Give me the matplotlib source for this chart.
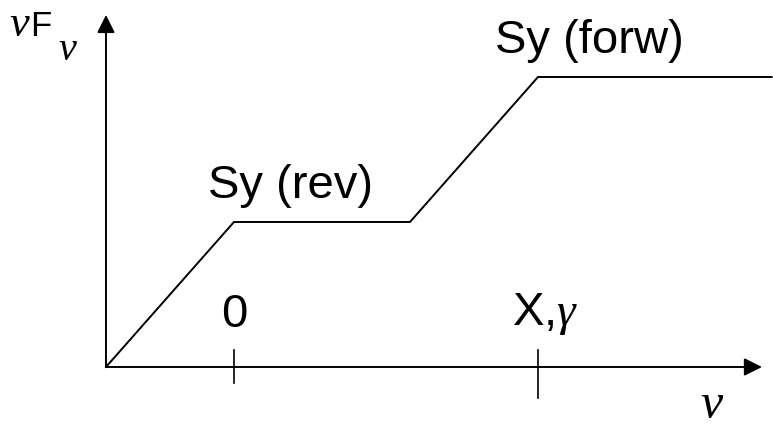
import matplotlib
matplotlib.use("Agg")
import matplotlib.pyplot as plt

# spectrum sketch: nuF_nu against nu (arbitrary units)
curve_x = [0, 1, 2.375, 3.375, 5.2]
curve_y = [0, 1, 1, 2, 2]

# tick marks on the nu axis
tick_x = [1, 3.375]
tick_low = [-0.11, -0.214]
tick_high = [0.117, 0.117]

SANS = "Liberation Sans"
SERIF = "Liberation Serif"

plt.rcParams["mathtext.fontset"] = "custom"
plt.rcParams["mathtext.it"] = "Liberation Serif:italic"
plt.rcParams["mathtext.rm"] = "Liberation Sans"

fig = plt.figure(figsize=(7.73, 4.26), dpi=100)
ax = fig.add_axes([0, 0, 1, 1])
ax.set_xlim(-0.828, 5.211)
ax.set_ylim(-0.407, 2.531)
ax.axis("off")

# axes with arrow heads
arrow = dict(arrowstyle="-|>,head_length=0.6,head_width=0.3", mutation_scale=18,
             lw=1.4, color="black", shrinkA=0, shrinkB=0)
ax.annotate("", xy=(5.125, 0), xytext=(0, 0), arrowprops=arrow)
ax.annotate("", xy=(0, 2.428), xytext=(0, 0), arrowprops=arrow)

# the curve
ax.plot(curve_x, curve_y, color="black", lw=1.4, solid_joinstyle="miter", clip_on=False)

# ticks
for x, lo, hi in zip(tick_x, tick_low, tick_high):
    ax.plot([x, x], [lo, hi], color="black", lw=1.2)

# labels
ax.text(1.0, 0.276, "0", family=SANS, fontsize=34, ha="center", va="baseline")
ax.text(3.17, 0.29, r"X,$\gamma$", family=SANS, fontsize=34, ha="left", va="baseline")

ax.text(0.797, 1.166, "Sy (rev)", family=SANS, fontsize=34, ha="left", va="baseline")
ax.text(3.039, 2.166, "Sy (forw)", family=SANS, fontsize=34, ha="left", va="baseline")

ax.text(4.64, -0.35, "ν", family=SERIF, style="italic", fontsize=36, ha="left", va="baseline")

# y label: nu F_nu
ax.text(-0.755, 2.283, "ν", family=SERIF, style="italic", fontsize=32, ha="left", va="baseline")
ax.text(-0.595, 2.283, "F", family=SANS, fontsize=25, ha="left", va="baseline")
ax.text(-0.37, 2.117, "ν", family=SERIF, style="italic", fontsize=29, ha="left", va="baseline")

fig.savefig("out.png", dpi=100)
